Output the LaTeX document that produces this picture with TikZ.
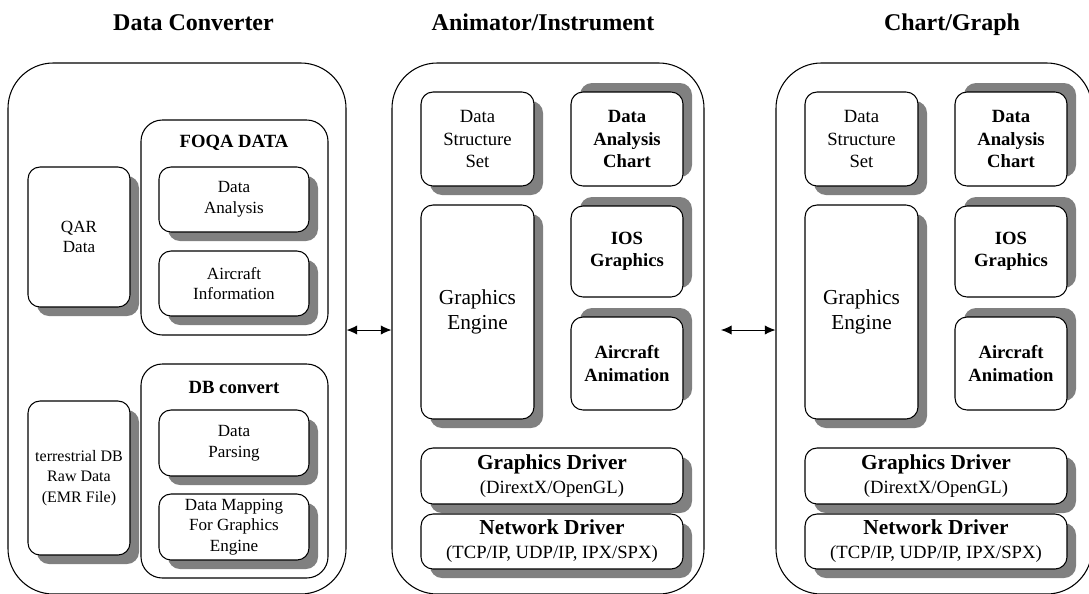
\documentclass[tikz,border=0pt]{standalone}
\usepackage{fontspec}
\setmainfont{Liberation Serif}
\usetikzlibrary{arrows.meta,shadows}
\definecolor{shgray}{RGB}{128,128,128}
\newcommand\fA{\fontsize{12.8pt}{15.4pt}\selectfont}
\newcommand\fAs{\fontsize{12pt}{15.5pt}\selectfont}
\newcommand\fB{\fontsize{14pt}{16.8pt}\selectfont}
\newcommand\fBb{\fontsize{14pt}{16.8pt}\selectfont\bfseries}
\newcommand\fC{\fontsize{16pt}{19.2pt}\selectfont}
\newcommand\fCb{\fontsize{16pt}{18pt}\selectfont\bfseries}
\newcommand\fD{\fontsize{14pt}{18pt}\selectfont}
\newcommand\fT{\fontsize{18pt}{21.6pt}\selectfont\bfseries}
\newcommand\boxat[7]{%
  \node[#2, minimum width={((#5)-(#3))*0.75pt}, minimum height={((#6)-(#4))*0.75pt}]
    (#1) at ({((#3)+(#5))/2},{((#4)+(#6))/2}) {#7};}
\tikzset{
  outerbox/.style={draw, line width=0.8pt, rounded corners=34pt, inner sep=0pt},
  groupbox/.style={draw, line width=0.8pt, rounded corners=16pt, inner sep=0pt},
  sbox/.style={draw, fill=white, line width=0.8pt, rounded corners=9pt, inner sep=0pt, align=center},
  shBR/.style={sbox, drop shadow={shadow xshift=6.75pt, shadow yshift=-6.75pt, fill=shgray, opacity=1}},
  shTR/.style={sbox, drop shadow={shadow xshift=6.75pt, shadow yshift=6.75pt, fill=shgray, opacity=1}},
  ttl/.style={font=\fT, anchor=base, inner sep=0pt},
  arr/.style={line width=0.75pt, {Latex[length=8pt,width=7pt]}-{Latex[length=8pt,width=7pt]}},
}
\newcommand\instpanel[2]{%
  \boxat{#1out}{outerbox}{392}{63}{#2}{594}{}
  \boxat{#1dss}{shBR,font=\fB}{421}{92}{534}{186}{Data\\Structure\\Set}
  \boxat{#1dac}{shTR,font=\fBb}{571}{92}{683}{186}{Data\\Analysis\\Chart}
  \boxat{#1ge}{shBR,font=\fC}{421}{205}{534}{419}{Graphics\\Engine}
  \boxat{#1ios}{shTR,font=\fBb}{571}{206}{683}{297}{IOS\\Graphics}
  \boxat{#1aa}{shTR,font=\fBb}{571}{317}{683}{410}{Aircraft\\Animation}
  \boxat{#1gd}{shBR,font=\fD}{421}{448}{683}{504}{{\fCb Graphics Driver}\\(DirextX/OpenGL)}
  \boxat{#1nd}{shBR,font=\fD}{421}{514}{683}{569}{{\fCb Network Driver}\\(TCP/IP, UDP/IP, IPX/SPX)}
}
\begin{document}
\begin{tikzpicture}[x=0.75pt,y=-0.75pt]
\path[use as bounding box] (0,0) rectangle (1089,593);
\clip (0,0) rectangle (1089,593);
% titles
\node[ttl] (t1) at (193.5,30) {Data Converter};
\node[ttl] (t2) at (543,30) {Animator/Instrument};
\node[ttl] (t3) at (952,30) {Chart/Graph};
% left panel
\boxat{L}{outerbox}{8}{63}{346}{594}{}
\boxat{foqa}{groupbox}{141}{120}{328}{335}{}
\node[font=\fBb] (foqaT) at (234,143) {FOQA DATA};
\boxat{qar}{shBR,font=\fA}{28}{167}{130}{307}{QAR\\Data}
\boxat{da}{shBR,font=\fA}{159}{167}{309}{232}{Data\\Analysis}
\boxat{ai}{shBR,font=\fA}{159}{251}{309}{316}{Aircraft\\Information}
\boxat{db}{groupbox}{141}{364}{328}{578}{}
\node[font=\fBb] (dbT) at (234,387) {DB convert};
\boxat{dp}{shBR,font=\fA}{159}{410}{309}{476}{Data\\Parsing}
\boxat{dm}{shBR,font=\fA}{159}{494}{309}{560}{Data Mapping\\For Graphics\\Engine}
\boxat{ter}{shBR,font=\fAs}{28}{401}{130}{555}{terrestrial DB\\Raw Data\\(EMR File)}
% middle panel
\instpanel{m}{704}
% right panel
\begin{scope}[xshift=288pt]
\instpanel{r}{708}
\end{scope}
% arrows
\coordinate (ay) at (0,330);
\coordinate (ra) at (721,330);
\draw[arr] (L.east |- ay) -- (mout.west |- ay);
\draw[arr] (ra) -- (rout.west |- ay);
\end{tikzpicture}
\end{document}
